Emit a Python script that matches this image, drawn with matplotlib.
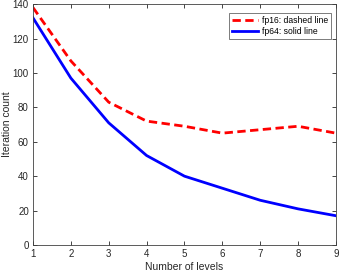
import matplotlib
matplotlib.use("Agg")
import matplotlib.pyplot as plt

levels = [1, 2, 3, 4, 5, 6, 7, 8, 9]
fp16 = [138, 107, 83, 72, 69, 65, 67, 69, 65]
fp64 = [132, 97, 71, 52, 40, 33, 26, 21, 17]
xticks = [1, 2, 3, 4, 5, 6, 7, 8, 9]
yticks = [0, 20, 40, 60, 80, 100, 120, 140]

plt.rcParams['font.family'] = ['Liberation Sans', 'DejaVu Sans']
fig = plt.figure(figsize=(3.4, 2.73), dpi=100)
ax = fig.add_axes([0.097, 0.1026, 0.891, 0.8824])
ax.plot(levels, fp16, color='#ff0000', linestyle=(0, (3, 1.6)), linewidth=2.0, label='fp16: dashed line')
ax.plot(levels, fp64, color='#0000ff', linestyle='-', linewidth=2.0, label='fp64: solid line')
ax.set_xlim(1, 9)
ax.set_ylim(0, 140)
ax.set_xticks(xticks)
ax.set_yticks(yticks)
ax.tick_params(direction='in', length=3, width=0.6, labelsize=7, colors='#262626',
               top=True, right=True, pad=3)
for s in ax.spines.values():
    s.set_color('#404040')
    s.set_linewidth(0.6)
ax.set_xlabel('Number of levels', fontsize=7.5, color='#262626', labelpad=2)
ax.set_ylabel('Iteration count', fontsize=7.5, color='#262626', labelpad=1)
ax.yaxis.set_label_coords(-0.068, 0.5)
leg = ax.legend(loc='upper right', fontsize=6.2, frameon=True, fancybox=False,
                edgecolor='#404040', handlelength=3.0, borderaxespad=0.0,
                borderpad=0.35, labelspacing=0.2, handletextpad=0.5,
                bbox_to_anchor=(0.984, 0.962))
leg.get_frame().set_linewidth(0.6)
fig.savefig('out.png', dpi=100)
